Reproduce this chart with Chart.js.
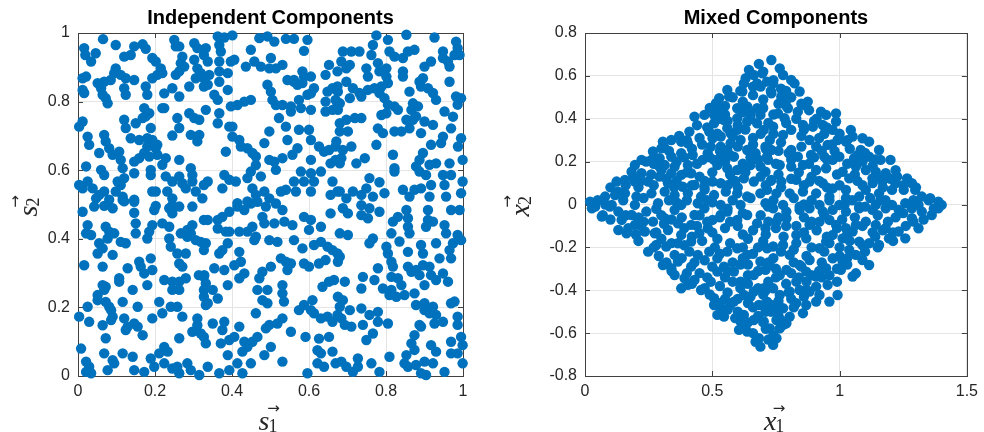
<!DOCTYPE html>
<html>
<head>
<meta charset="utf-8">
<script src="https://cdn.jsdelivr.net/npm/chart.js@4/dist/chart.umd.min.js"></script>
<style>
  html, body { margin: 0; padding: 0; background: #fff; }
  #wrap { position: relative; width: 984px; height: 432px; }
  .panel { position: absolute; top: 0; width: 492px; height: 432px; }
  #leftBox { left: 0; }
  #rightBox { left: 492px; }
</style>
</head>
<body>
<div id="wrap">
  <div class="panel" id="leftBox"><canvas id="independentChart"></canvas></div>
  <div class="panel" id="rightBox"><canvas id="mixedChart"></canvas></div>
</div>
<script>
// === Data ===
const independentPoints = [
  [0.065,0.982],[0.098,0.965],[0.146,0.961],[0.168,0.967],[0.176,0.954],[0.016,0.956],[0.019,0.936],[0.046,0.941],[0.034,0.917],
  [0.120,0.931],[0.137,0.936],[0.193,0.927],[0.202,0.917],[0.215,0.897],[0.219,0.883],[0.098,0.897],[0.094,0.883],[0.111,0.878],
  [0.124,0.868],[0.146,0.863],[0.085,0.863],[0.021,0.873],[0.012,0.868],[0.051,0.854],[0.068,0.858],[0.060,0.839],[0.012,0.834],
  [0.016,0.825],[0.064,0.820],[0.072,0.810],[0.077,0.795],[0.120,0.839],[0.124,0.820],[0.176,0.844],[0.180,0.820],[0.193,0.868],
  [0.206,0.878],[0.172,0.781],[0.185,0.766],[0.176,0.757],[0.224,0.824],[0.245,0.839],[0.263,0.815],[0.224,0.781],[0.250,0.980],
  [0.254,0.961],[0.263,0.961],[0.271,0.931],[0.267,0.912],[0.276,0.902],[0.263,0.888],[0.254,0.878],[0.302,0.970],[0.310,0.956],
  [0.327,0.951],[0.327,0.936],[0.302,0.922],[0.310,0.897],[0.319,0.883],[0.327,0.868],[0.306,0.868],[0.289,0.844],[0.327,0.844],
  [0.012,0.742],[0.003,0.727],[0.120,0.747],[0.124,0.723],[0.150,0.737],[0.168,0.752],[0.189,0.723],[0.180,0.693],[0.193,0.688],
  [0.206,0.674],[0.219,0.781],[0.258,0.752],[0.263,0.723],[0.245,0.701],[0.289,0.766],[0.302,0.752],[0.315,0.747],[0.293,0.703],
  [0.315,0.703],[0.310,0.684],[0.025,0.698],[0.029,0.674],[0.068,0.703],[0.072,0.684],[0.055,0.650],[0.081,0.664],[0.090,0.645],
  [0.107,0.654],[0.111,0.630],[0.116,0.606],[0.120,0.577],[0.111,0.557],[0.137,0.693],[0.159,0.688],[0.180,0.669],[0.172,0.650],
  [0.202,0.664],[0.206,0.645],[0.146,0.625],[0.159,0.635],[0.185,0.640],[0.021,0.611],[0.060,0.601],[0.068,0.586],[0.146,0.591],
  [0.189,0.601],[0.189,0.586],[0.228,0.635],[0.219,0.616],[0.263,0.630],[0.293,0.606],[0.297,0.586],[0.228,0.582],[0.245,0.567],
  [0.263,0.582],[0.271,0.562],[0.003,0.557],[0.012,0.547],[0.025,0.567],[0.038,0.547],[0.055,0.528],[0.068,0.538],[0.103,0.567],
  [0.098,0.538],[0.116,0.523],[0.146,0.514],[0.193,0.538],[0.202,0.538],[0.232,0.538],[0.245,0.518],[0.280,0.547],[0.297,0.567],
  [0.306,0.538],[0.323,0.518],[0.327,0.557],[0.047,0.518],[0.081,0.514],[0.120,0.509],
  [0.363,0.990],[0.380,0.987],[0.401,0.993],[0.471,0.985],[0.492,0.990],[0.510,0.975],[0.540,0.983],[0.561,0.983],[0.596,0.980],
  [0.332,0.956],[0.367,0.965],[0.371,0.946],[0.449,0.951],[0.587,0.948],[0.337,0.917],[0.367,0.917],[0.397,0.917],[0.406,0.922],
  [0.436,0.902],[0.458,0.917],[0.475,0.902],[0.501,0.927],[0.497,0.897],[0.514,0.897],[0.531,0.907],[0.341,0.878],[0.367,0.888],
  [0.367,0.858],[0.389,0.883],[0.544,0.863],[0.561,0.863],[0.583,0.888],[0.587,0.873],[0.605,0.873],[0.643,0.878],[0.652,0.907],
  [0.674,0.888],[0.337,0.849],[0.354,0.820],[0.363,0.805],[0.389,0.834],[0.492,0.849],[0.501,0.829],[0.505,0.805],[0.514,0.790],
  [0.531,0.790],[0.561,0.858],[0.570,0.849],[0.583,0.854],[0.613,0.839],[0.605,0.824],[0.596,0.820],[0.648,0.829],[0.661,0.839],
  [0.674,0.844],[0.643,0.800],[0.669,0.805],[0.397,0.786],[0.414,0.790],[0.432,0.800],[0.449,0.805],[0.332,0.776],[0.367,0.766],
  [0.363,0.737],[0.553,0.786],[0.553,0.771],[0.574,0.805],[0.579,0.781],[0.605,0.776],[0.643,0.771],[0.661,0.776],[0.674,0.790],
  [0.522,0.752],[0.540,0.727],[0.497,0.713],[0.484,0.679],[0.393,0.727],[0.401,0.727],[0.401,0.698],[0.419,0.688],[0.423,0.669],
  [0.440,0.664],[0.453,0.650],[0.462,0.640],[0.384,0.654],[0.544,0.688],[0.574,0.718],[0.600,0.718],[0.605,0.688],[0.570,0.664],
  [0.557,0.645],[0.531,0.635],[0.497,0.630],[0.510,0.625],[0.626,0.669],[0.639,0.654],[0.652,0.659],[0.669,0.669],[0.656,0.620],
  [0.669,0.630],[0.605,0.630],[0.462,0.615],[0.449,0.596],[0.440,0.577],[0.475,0.582],[0.514,0.601],[0.380,0.586],[0.393,0.572],
  [0.410,0.567],[0.375,0.547],[0.337,0.567],[0.579,0.596],[0.605,0.591],[0.631,0.596],[0.587,0.567],[0.613,0.567],[0.661,0.567],
  [0.674,0.538],[0.656,0.528],[0.453,0.547],[0.462,0.528],[0.484,0.538],[0.497,0.518],[0.527,0.538],[0.540,0.543],[0.561,0.567],
  [0.566,0.538],[0.605,0.538],[0.414,0.504],[0.440,0.509],
  [0.775,0.993],[0.853,0.995],[0.926,0.987],[0.805,0.980],[0.982,0.975],[0.986,0.956],[0.688,0.946],[0.710,0.946],[0.731,0.946],
  [0.766,0.965],[0.762,0.936],[0.809,0.946],[0.822,0.931],[0.844,0.927],[0.857,0.946],[0.874,0.951],[0.948,0.946],[0.948,0.927],
  [0.978,0.936],[0.991,0.936],[0.684,0.917],[0.706,0.907],[0.697,0.897],[0.779,0.912],[0.749,0.897],[0.753,0.873],[0.783,0.888],
  [0.801,0.897],[0.801,0.873],[0.805,0.854],[0.788,0.844],[0.844,0.888],[0.844,0.873],[0.900,0.902],[0.917,0.917],[0.896,0.868],
  [0.887,0.858],[0.961,0.917],[0.965,0.902],[0.697,0.858],[0.714,0.839],[0.731,0.825],[0.753,0.834],[0.770,0.839],[0.783,0.825],
  [0.796,0.810],[0.675,0.829],[0.680,0.795],[0.706,0.810],[0.736,0.815],[0.861,0.829],[0.909,0.839],[0.922,0.825],[0.930,0.805],
  [0.891,0.844],[0.965,0.858],[0.982,0.815],[0.995,0.810],[0.986,0.791],[0.805,0.791],[0.822,0.786],[0.831,0.776],[0.870,0.795],
  [0.883,0.786],[0.866,0.776],[0.878,0.757],[0.870,0.747],[0.853,0.747],[0.788,0.761],[0.801,0.766],[0.675,0.776],[0.680,0.737],
  [0.697,0.747],[0.719,0.752],[0.736,0.752],[0.952,0.771],[0.974,0.756],[0.969,0.722],[0.922,0.732],[0.900,0.742],[0.779,0.722],
  [0.792,0.708],[0.822,0.713],[0.840,0.713],[0.861,0.722],[0.891,0.708],[0.680,0.713],[0.701,0.713],[0.671,0.684],[0.688,0.659],
  [0.710,0.669],[0.948,0.698],[0.943,0.679],[0.917,0.674],[0.995,0.693],[0.987,0.669],[0.775,0.674],[0.684,0.635],[0.680,0.620],
  [0.723,0.620],[0.745,0.635],[0.818,0.645],[0.822,0.606],[0.822,0.596],[0.896,0.650],[0.887,0.630],[0.878,0.611],[0.887,0.596],
  [0.913,0.616],[0.930,0.620],[0.965,0.620],[0.999,0.630],[0.904,0.586],[0.948,0.586],[0.969,0.586],[0.999,0.567],[0.952,0.557],
  [0.917,0.557],[0.757,0.577],[0.783,0.565],[0.749,0.547],[0.736,0.528],[0.714,0.538],[0.680,0.538],[0.697,0.518],[0.766,0.523],
  [0.796,0.533],[0.844,0.543],[0.874,0.543],[0.891,0.547],[0.861,0.523],[0.913,0.523],[0.956,0.523],[0.995,0.533],
  [0.012,0.479],[0.042,0.494],[0.068,0.496],[0.090,0.489],[0.116,0.513],[0.146,0.508],[0.146,0.476],[0.202,0.496],[0.198,0.484],
  [0.237,0.489],[0.245,0.498],[0.263,0.494],[0.245,0.474],[0.297,0.494],[0.327,0.455],[0.025,0.440],[0.021,0.416],[0.034,0.411],
  [0.072,0.435],[0.081,0.421],[0.094,0.416],[0.077,0.401],[0.150,0.445],[0.150,0.416],[0.193,0.440],[0.185,0.421],[0.180,0.401],
  [0.219,0.445],[0.237,0.435],[0.267,0.416],[0.284,0.426],[0.297,0.440],[0.293,0.416],[0.284,0.406],[0.306,0.396],[0.319,0.391],
  [0.327,0.367],[0.055,0.387],[0.064,0.372],[0.051,0.357],[0.111,0.391],[0.124,0.387],[0.090,0.353],[0.237,0.401],[0.241,0.377],
  [0.258,0.357],[0.280,0.357],[0.016,0.323],[0.064,0.319],[0.129,0.314],[0.159,0.333],[0.163,0.319],[0.172,0.299],[0.189,0.343],
  [0.193,0.309],[0.263,0.328],[0.271,0.319],[0.280,0.285],[0.263,0.275],[0.245,0.275],[0.224,0.280],[0.314,0.294],[0.327,0.289],
  [0.327,0.251],[0.263,0.251],[0.245,0.251],[0.107,0.285],[0.107,0.275],[0.072,0.260],[0.064,0.265],[0.068,0.251],[0.142,0.251],
  [0.180,0.265],[0.051,0.236],[0.051,0.221],[0.072,0.216],[0.081,0.202],[0.086,0.192],[0.116,0.216],[0.155,0.202],[0.211,0.216],
  [0.241,0.202],[0.258,0.202],[0.332,0.207],[0.327,0.231],[0.025,0.202],[0.003,0.173],[0.029,0.158],[0.064,0.148],[0.086,0.163],
  [0.090,0.173],[0.120,0.168],[0.129,0.144],[0.146,0.153],[0.155,0.144],[0.168,0.119],[0.124,0.134],[0.193,0.168],[0.219,0.183],
  [0.271,0.173],[0.310,0.168],[0.310,0.148],[0.319,0.124],[0.072,0.110],[0.297,0.129],[0.263,0.110],[0.327,0.114],[0.008,0.080],
  [0.224,0.085],[0.233,0.071],[0.211,0.066],[0.189,0.051],[0.068,0.066],[0.116,0.066],[0.142,0.056],[0.090,0.046],[0.094,0.037],
  [0.077,0.017],[0.021,0.042],[0.029,0.027],[0.021,0.012],[0.034,0.008],[0.146,0.017],[0.172,0.012],[0.198,0.027],[0.224,0.037],
  [0.245,0.022],[0.258,0.027],[0.263,0.008],[0.284,0.037],[0.293,0.017],[0.315,0.003],
  [0.337,0.455],[0.363,0.455],[0.363,0.430],[0.375,0.464],[0.393,0.479],[0.414,0.494],[0.432,0.484],[0.449,0.503],[0.466,0.508],
  [0.488,0.494],[0.514,0.503],[0.531,0.484],[0.479,0.464],[0.484,0.445],[0.453,0.435],[0.440,0.421],[0.419,0.421],[0.384,0.421],
  [0.393,0.421],[0.510,0.445],[0.536,0.450],[0.557,0.440],[0.587,0.464],[0.605,0.455],[0.656,0.474],[0.600,0.426],[0.631,0.435],
  [0.462,0.406],[0.458,0.396],[0.497,0.396],[0.518,0.391],[0.561,0.396],[0.583,0.372],[0.613,0.382],[0.631,0.391],[0.648,0.377],
  [0.661,0.367],[0.674,0.357],[0.332,0.387],[0.389,0.387],[0.375,0.367],[0.367,0.357],[0.419,0.362],[0.423,0.333],[0.527,0.343],
  [0.540,0.333],[0.553,0.328],[0.544,0.309],[0.501,0.319],[0.479,0.304],[0.471,0.285],[0.587,0.328],[0.600,0.319],[0.626,0.328],
  [0.643,0.338],[0.652,0.275],[0.635,0.260],[0.665,0.280],[0.354,0.314],[0.380,0.309],[0.406,0.323],[0.432,0.299],[0.419,0.285],
  [0.328,0.294],[0.332,0.270],[0.350,0.251],[0.363,0.226],[0.389,0.265],[0.466,0.251],[0.492,0.251],[0.531,0.265],[0.531,0.241],
  [0.535,0.217],[0.479,0.221],[0.492,0.212],[0.609,0.221],[0.587,0.207],[0.574,0.192],[0.605,0.192],[0.613,0.183],[0.631,0.168],
  [0.648,0.173],[0.674,0.178],[0.661,0.158],[0.462,0.183],[0.337,0.212],[0.350,0.153],[0.380,0.158],[0.375,0.134],[0.419,0.144],
  [0.531,0.168],[0.518,0.153],[0.497,0.149],[0.488,0.139],[0.466,0.114],[0.453,0.100],[0.440,0.085],[0.427,0.071],[0.553,0.129],
  [0.591,0.114],[0.626,0.109],[0.652,0.114],[0.371,0.095],[0.393,0.105],[0.406,0.114],[0.432,0.100],[0.501,0.085],[0.332,0.095],
  [0.389,0.061],[0.484,0.061],[0.531,0.042],[0.622,0.075],[0.631,0.066],[0.661,0.071],[0.449,0.037],[0.414,0.037],[0.393,0.017],
  [0.367,0.008],[0.337,0.027],[0.427,0.008],[0.596,0.008],[0.622,0.037],[0.639,0.027],[0.669,0.037],
  [0.688,0.489],[0.701,0.474],[0.736,0.498],[0.757,0.489],[0.783,0.479],[0.736,0.469],[0.753,0.460],[0.853,0.484],[0.857,0.460],
  [0.857,0.435],[0.861,0.416],[0.818,0.450],[0.831,0.464],[0.814,0.416],[0.835,0.392],[0.909,0.484],[0.909,0.455],[0.904,0.435],
  [0.922,0.450],[0.952,0.440],[0.956,0.416],[0.969,0.484],[0.991,0.484],[0.986,0.411],[0.995,0.396],[0.974,0.387],[0.680,0.416],
  [0.701,0.411],[0.757,0.387],[0.766,0.401],[0.801,0.377],[0.805,0.357],[0.814,0.333],[0.818,0.319],[0.857,0.362],[0.891,0.382],
  [0.896,0.357],[0.930,0.387],[0.939,0.343],[0.965,0.367],[0.969,0.343],[0.680,0.348],[0.675,0.333],[0.779,0.314],[0.857,0.319],
  [0.866,0.304],[0.878,0.309],[0.896,0.323],[0.913,0.319],[0.887,0.294],[0.917,0.294],[0.930,0.280],[0.948,0.299],[0.961,0.275],
  [0.814,0.289],[0.831,0.285],[0.840,0.265],[0.814,0.251],[0.809,0.236],[0.827,0.231],[0.848,0.236],[0.874,0.241],[0.900,0.265],
  [0.792,0.255],[0.693,0.275],[0.740,0.289],[0.770,0.280],[0.736,0.255],[0.675,0.231],[0.688,0.221],[0.680,0.202],[0.706,0.192],
  [0.878,0.207],[0.900,0.212],[0.922,0.202],[0.913,0.183],[0.900,0.192],[0.930,0.178],[0.969,0.212],[0.978,0.217],[0.736,0.197],
  [0.757,0.178],[0.779,0.187],[0.779,0.158],[0.766,0.124],[0.749,0.105],[0.684,0.168],[0.693,0.149],[0.710,0.144],[0.740,0.149],
  [0.805,0.153],[0.887,0.149],[0.891,0.144],[0.926,0.153],[0.948,0.158],[0.986,0.173],[0.986,0.149],[0.874,0.119],[0.866,0.095],
  [0.874,0.076],[0.917,0.090],[0.930,0.071],[0.969,0.100],[0.995,0.114],[0.999,0.090],[0.969,0.066],[0.986,0.066],[0.809,0.056],
  [0.853,0.061],[0.999,0.037],[0.684,0.042],[0.697,0.027],[0.727,0.051],[0.727,0.027],[0.714,0.012],[0.762,0.037],[0.783,0.012],
  [0.848,0.037],[0.857,0.027],[0.878,0.032],[0.900,0.042],[0.922,0.037],[0.891,0.008],[0.904,0.003],[0.952,0.012]
];

const mixedPoints = [
  [0.683,0.656],[0.644,0.628],[0.631,0.589],[0.663,0.604],[0.696,0.612],[0.715,0.573],[0.676,0.565],[0.624,0.565],[0.618,0.527],
  [0.559,0.534],[0.566,0.503],[0.527,0.496],[0.514,0.472],[0.520,0.441],[0.507,0.418],[0.598,0.449],[0.637,0.457],[0.676,0.449],
  [0.689,0.418],[0.650,0.425],[0.598,0.402],[0.637,0.387],[0.676,0.379],[0.702,0.348],[0.430,0.410],[0.469,0.418],[0.507,0.379],
  [0.546,0.394],[0.559,0.356],[0.572,0.332],[0.410,0.340],[0.488,0.340],[0.501,0.309],[0.533,0.317],[0.598,0.348],[0.611,0.301],
  [0.306,0.293],[0.339,0.301],[0.378,0.293],[0.404,0.285],[0.300,0.262],[0.267,0.247],[0.494,0.270],[0.533,0.270],[0.572,0.286],
  [0.559,0.254],[0.637,0.254],[0.670,0.239],[0.709,0.270],[0.715,0.223],[0.339,0.223],[0.378,0.239],[0.423,0.231],[0.482,0.239],
  [0.462,0.208],[0.507,0.208],[0.533,0.223],[0.585,0.223],[0.196,0.184],[0.222,0.208],[0.261,0.208],[0.293,0.216],[0.313,0.184],
  [0.352,0.177],[0.404,0.184],[0.183,0.153],[0.222,0.146],[0.300,0.161],[0.339,0.146],[0.378,0.138],[0.417,0.146],[0.520,0.184],
  [0.559,0.169],[0.598,0.161],[0.650,0.184],[0.689,0.177],[0.709,0.153],[0.124,0.107],[0.157,0.115],[0.196,0.107],[0.248,0.107],
  [0.293,0.130],[0.326,0.099],[0.384,0.083],[0.430,0.091],[0.469,0.083],[0.501,0.107],[0.533,0.099],[0.579,0.107],[0.624,0.122],
  [0.663,0.107],[0.079,0.037],[0.118,0.044],[0.157,0.052],[0.202,0.037],[0.261,0.052],[0.313,0.060],[0.352,0.044],[0.404,0.052],
  [0.456,0.037],[0.507,0.044],[0.553,0.060],[0.598,0.052],[0.637,0.037],[0.689,0.052],[0.715,0.068],[0.020,0.013],[0.040,-0.010],
  [0.105,-0.002],[0.196,-0.002],[0.287,0.006],[0.378,-0.002],[0.443,0.006],[0.533,-0.002],[0.611,-0.002],[0.709,0.006],
  [0.732,0.674],[0.765,0.635],[0.778,0.604],[0.810,0.581],[0.823,0.565],[0.843,0.527],[0.739,0.565],[0.732,0.519],[0.771,0.503],
  [0.791,0.488],[0.797,0.449],[0.758,0.425],[0.784,0.402],[0.836,0.433],[0.862,0.464],[0.875,0.480],[0.927,0.433],[0.947,0.418],
  [0.986,0.425],[0.739,0.363],[0.778,0.324],[0.810,0.348],[0.856,0.371],[0.895,0.363],[0.934,0.371],[0.973,0.348],[0.986,0.387],
  [1.044,0.348],[1.051,0.317],[1.090,0.309],[1.116,0.293],[1.025,0.293],[0.992,0.301],[0.726,0.301],[0.732,0.254],[0.810,0.254],
  [0.882,0.301],[0.908,0.270],[0.953,0.278],[0.888,0.231],[0.836,0.223],[1.155,0.254],[1.200,0.208],[1.161,0.208],[1.116,0.223],
  [1.083,0.254],[1.057,0.216],[0.999,0.223],[0.973,0.208],[0.940,0.223],[0.719,0.208],[0.765,0.184],[0.810,0.177],[0.856,0.184],
  [0.908,0.161],[0.947,0.169],[1.012,0.153],[1.064,0.177],[1.103,0.161],[1.142,0.153],[1.181,0.146],[1.226,0.130],[1.265,0.122],
  [1.284,0.099],[1.219,0.099],[1.168,0.107],[1.129,0.122],[1.038,0.122],[1.025,0.068],[0.973,0.075],[0.934,0.099],[0.882,0.107],
  [0.830,0.115],[0.771,0.107],[0.732,0.115],[1.323,0.037],[1.356,0.029],[1.388,0.013],[1.401,-0.002],[1.297,0.068],[1.252,0.068],
  [1.206,0.068],[1.155,0.052],[1.103,0.068],[1.077,0.037],[1.025,0.029],[0.960,0.037],[0.908,0.052],[0.856,0.060],[0.804,0.052],
  [0.752,0.052],[1.310,-0.002],[1.258,0.006],[1.206,-0.002],[1.142,-0.002],[1.077,-0.010],[0.999,-0.002],[0.921,-0.002],
  [0.843,-0.010],[0.778,-0.002],[0.719,-0.010],
  [0.027,-0.018],[0.066,-0.056],[0.098,-0.010],[0.131,-0.033],[0.131,-0.119],[0.163,-0.134],[0.144,-0.072],[0.183,-0.049],
  [0.196,-0.095],[0.235,-0.126],[0.241,-0.033],[0.267,-0.080],[0.274,-0.134],[0.313,-0.064],[0.326,-0.119],[0.352,-0.025],
  [0.365,-0.088],[0.378,-0.142],[0.417,-0.095],[0.430,-0.049],[0.469,-0.018],[0.248,-0.220],[0.280,-0.189],[0.319,-0.196],
  [0.352,-0.235],[0.365,-0.181],[0.417,-0.173],[0.449,-0.134],[0.482,-0.111],[0.501,-0.072],[0.533,-0.049],[0.559,-0.033],
  [0.598,-0.072],[0.637,-0.049],[0.676,-0.088],[0.709,-0.111],[0.306,-0.282],[0.339,-0.297],[0.365,-0.266],[0.352,-0.329],
  [0.391,-0.344],[0.417,-0.290],[0.443,-0.235],[0.488,-0.220],[0.520,-0.251],[0.559,-0.220],[0.598,-0.204],[0.637,-0.235],
  [0.689,-0.266],[0.715,-0.204],[0.378,-0.391],[0.404,-0.375],[0.430,-0.352],[0.456,-0.399],[0.494,-0.360],[0.520,-0.313],
  [0.546,-0.290],[0.585,-0.313],[0.611,-0.360],[0.663,-0.329],[0.709,-0.305],[0.507,-0.437],[0.507,-0.469],[0.533,-0.484],
  [0.520,-0.515],[0.546,-0.523],[0.585,-0.453],[0.624,-0.422],[0.663,-0.406],[0.702,-0.391],[0.683,-0.469],[0.715,-0.453],
  [0.624,-0.515],[0.611,-0.546],[0.605,-0.585],[0.637,-0.593],[0.663,-0.539],[0.702,-0.546],[0.709,-0.500],[0.683,-0.624],
  [0.689,-0.663],
  [0.739,-0.018],[0.791,-0.033],[0.843,-0.025],[0.882,-0.018],[0.934,-0.033],[0.973,-0.025],[1.025,-0.033],[1.077,-0.018],
  [1.129,-0.025],[1.181,-0.018],[1.232,-0.025],[1.284,-0.018],[1.323,-0.033],[1.362,-0.049],[1.388,-0.018],[0.752,-0.080],
  [0.791,-0.064],[0.830,-0.142],[0.869,-0.158],[0.882,-0.095],[0.921,-0.080],[0.960,-0.072],[0.986,-0.095],[1.025,-0.111],
  [1.064,-0.095],[1.103,-0.080],[1.142,-0.095],[1.181,-0.111],[1.232,-0.126],[1.258,-0.158],[1.310,-0.111],[1.284,-0.064],
  [0.739,-0.196],[0.778,-0.189],[0.804,-0.235],[0.843,-0.282],[0.882,-0.259],[0.921,-0.204],[0.947,-0.173],[0.973,-0.142],
  [1.012,-0.158],[1.051,-0.126],[1.077,-0.173],[1.116,-0.181],[1.155,-0.189],[1.194,-0.158],[0.726,-0.282],[0.765,-0.329],
  [0.791,-0.305],[0.830,-0.360],[0.869,-0.313],[0.908,-0.336],[0.947,-0.297],[0.973,-0.251],[1.012,-0.266],[1.038,-0.212],
  [1.064,-0.235],[1.090,-0.259],[1.116,-0.282],[1.005,-0.305],[1.051,-0.336],[1.064,-0.321],[0.739,-0.391],[0.765,-0.422],
  [0.804,-0.406],[0.843,-0.399],[0.882,-0.406],[0.921,-0.422],[0.960,-0.453],[0.992,-0.422],[0.953,-0.375],[0.908,-0.383],
  [0.732,-0.469],[0.778,-0.484],[0.804,-0.523],[0.869,-0.469],[0.856,-0.507],[0.908,-0.453],[0.752,-0.539],[0.791,-0.554],
  [0.726,-0.578],[0.765,-0.578],[0.752,-0.624],[0.739,-0.655],
  [0.58,0.50],[0.66,0.51],[0.70,0.49],[0.76,0.47],[0.81,0.50],[0.73,0.53],[0.49,0.45],[0.55,0.46],[0.62,0.43],[0.70,0.45],
  [0.74,0.42],[0.79,0.46],[0.88,0.44],[0.91,0.40],[0.44,0.37],[0.53,0.40],[0.56,0.39],[0.65,0.40],[0.72,0.38],[0.79,0.38],
  [0.83,0.40],[0.90,0.39],[0.95,0.36],[0.60,0.37],[0.37,0.32],[0.45,0.31],[0.52,0.33],[0.58,0.32],[0.66,0.31],[0.74,0.33],
  [0.77,0.29],[0.85,0.32],[0.92,0.31],[1.00,0.33],[0.97,0.28],[0.31,0.27],[0.42,0.26],[0.46,0.28],[0.53,0.25],[0.60,0.27],
  [0.66,0.28],[0.71,0.26],[0.76,0.25],[0.85,0.27],[0.93,0.25],[1.04,0.26],[1.10,0.24],[0.24,0.20],[0.29,0.18],[0.36,0.20],
  [0.44,0.19],[0.55,0.20],[0.62,0.19],[0.68,0.21],[0.75,0.19],[0.81,0.21],[0.88,0.19],[0.95,0.21],[1.03,0.19],[1.09,0.20],
  [1.13,0.18],[0.19,0.13],[0.26,0.14],[0.32,0.12],[0.40,0.15],[0.45,0.13],[0.50,0.15],[0.57,0.14],[0.63,0.15],[0.69,0.13],
  [0.76,0.14],[0.84,0.15],[0.89,0.13],[0.99,0.14],[1.06,0.14],[1.15,0.13],[1.22,0.16],[0.10,0.08],[0.21,0.08],[0.27,0.09],
  [0.35,0.08],[0.42,0.09],[0.47,0.07],[0.56,0.09],[0.60,0.08],[0.71,0.09],[0.77,0.08],[0.86,0.09],[0.95,0.08],[1.00,0.09],
  [1.09,0.09],[1.17,0.08],[1.25,0.09],[0.05,0.02],[0.15,0.02],[0.23,0.03],[0.33,0.02],[0.40,0.02],[0.48,0.02],[0.58,0.02],
  [0.65,0.03],[0.74,0.02],[0.82,0.03],[0.89,0.02],[0.96,0.02],[1.05,0.02],[1.12,0.03],[1.18,0.02],[1.29,0.02],[1.35,0.02],
  [0.07,-0.05],[0.16,-0.05],[0.21,-0.06],[0.30,-0.05],[0.38,-0.06],[0.45,-0.05],[0.53,-0.06],[0.62,-0.04],[0.69,-0.05],
  [0.76,-0.06],[0.86,-0.06],[0.94,-0.05],[1.06,-0.06],[1.15,-0.05],[1.22,-0.06],[1.33,-0.07],[0.17,-0.11],[0.22,-0.10],
  [0.31,-0.09],[0.39,-0.11],[0.44,-0.10],[0.55,-0.11],[0.60,-0.10],[0.66,-0.12],[0.75,-0.11],[0.79,-0.10],[0.91,-0.12],
  [0.99,-0.11],[1.09,-0.10],[1.17,-0.12],[1.26,-0.10],[0.21,-0.17],[0.30,-0.16],[0.34,-0.18],[0.46,-0.17],[0.52,-0.16],
  [0.57,-0.18],[0.64,-0.16],[0.70,-0.17],[0.78,-0.15],[0.83,-0.18],[0.96,-0.18],[1.04,-0.17],[1.14,-0.15],[1.21,-0.17],
  [0.29,-0.24],[0.38,-0.25],[0.41,-0.22],[0.47,-0.26],[0.53,-0.23],[0.62,-0.25],[0.66,-0.23],[0.74,-0.25],[0.77,-0.22],
  [0.87,-0.24],[0.94,-0.22],[1.00,-0.24],[1.10,-0.22],[0.34,-0.31],[0.45,-0.32],[0.50,-0.29],[0.56,-0.31],[0.61,-0.28],
  [0.68,-0.31],[0.75,-0.30],[0.81,-0.32],[0.85,-0.29],[0.92,-0.31],[0.99,-0.30],[1.03,-0.28],[0.42,-0.37],[0.53,-0.38],
  [0.58,-0.36],[0.64,-0.37],[0.68,-0.39],[0.72,-0.36],[0.79,-0.37],[0.87,-0.36],[0.93,-0.34],[0.99,-0.36],[0.49,-0.42],
  [0.55,-0.44],[0.60,-0.44],[0.65,-0.43],[0.70,-0.42],[0.76,-0.45],[0.81,-0.44],[0.86,-0.43],[0.56,-0.49],[0.60,-0.50],
  [0.66,-0.48],[0.68,-0.52],[0.73,-0.50],[0.76,-0.52],[0.82,-0.48],[0.63,-0.57],[0.66,-0.60],[0.71,-0.58],[0.74,-0.61],
  [0.78,-0.56],[0.70,0.62],[0.74,0.58],[0.66,0.55],[0.77,0.54],[0.61,0.53],
  [0.62,0.48],[0.69,0.55],[0.79,0.53],[0.85,0.47],[0.55,0.42],[0.48,0.36],[0.63,0.35],[0.69,0.33],[0.86,0.35],[0.94,0.33],
  [1.03,0.30],[0.40,0.30],[0.33,0.25],[0.39,0.22],[0.49,0.22],[0.57,0.23],[0.65,0.22],[0.80,0.24],[0.90,0.22],[0.98,0.25],
  [1.07,0.23],[1.14,0.21],[0.27,0.19],[0.16,0.09],[0.22,0.11],[0.36,0.11],[0.47,0.11],[0.59,0.11],[0.73,0.11],[0.81,0.12],
  [0.92,0.11],[1.07,0.11],[1.13,0.10],[1.20,0.12],[1.30,0.08],[0.13,0.06],[0.08,0.00],[0.28,-0.02],[0.36,0.01],[0.50,0.01],
  [0.56,-0.02],[0.86,0.00],[1.02,0.00],[1.10,-0.01],[1.25,-0.04],[1.37,-0.02],[1.16,0.02],[0.10,-0.07],[0.23,-0.08],
  [0.34,-0.07],[0.48,-0.08],[0.57,-0.08],[0.72,-0.08],[0.89,-0.08],[1.01,-0.07],[1.19,-0.08],[1.29,-0.08],[0.83,-0.10],
  [0.20,-0.14],[0.28,-0.13],[0.42,-0.15],[0.50,-0.13],[0.62,-0.14],[0.71,-0.14],[0.86,-0.13],[0.95,-0.15],[1.03,-0.14],
  [1.13,-0.13],[1.21,-0.13],[0.27,-0.20],[0.39,-0.19],[0.51,-0.20],[0.62,-0.20],[0.68,-0.20],[0.82,-0.21],[0.89,-0.20],
  [1.00,-0.20],[1.09,-0.19],[1.15,-0.20],[0.32,-0.27],[0.43,-0.27],[0.58,-0.27],[0.64,-0.28],[0.72,-0.27],[0.82,-0.27],
  [0.93,-0.27],[1.03,-0.25],[0.40,-0.32],[0.48,-0.34],[0.55,-0.34],[0.64,-0.33],[0.75,-0.34],[0.84,-0.34],[0.89,-0.33],
  [0.96,-0.33],[0.47,-0.39],[0.56,-0.41],[0.61,-0.39],[0.71,-0.40],[0.80,-0.41],[0.87,-0.40],[0.53,-0.46],[0.57,-0.47],
  [0.64,-0.46],[0.71,-0.46],[0.75,-0.48],[0.83,-0.46],[0.59,-0.53],[0.64,-0.55],[0.70,-0.55],[0.77,-0.54],[0.67,-0.64],
  [0.72,-0.63]
];

const leftXTicks = [0, 0.2, 0.4, 0.6, 0.8, 1];
const leftYTicks = [0, 0.2, 0.4, 0.6, 0.8, 1];
const rightXTicks = [0, 0.5, 1, 1.5];
const rightYTicks = [-0.8, -0.6, -0.4, -0.2, 0, 0.2, 0.4, 0.6, 0.8];

const pointColor = '#0072BD';
const axisColor = '#262626';
const tickFont = { family: '"Liberation Sans", Arial, sans-serif', size: 16 };

// === Frame + inward ticks (MATLAB style box) ===
const axisFrame = {
  id: 'axisFrame',
  beforeDatasetsDraw(chart) {
    const { ctx, chartArea: a, scales } = chart;
    ctx.save();
    ctx.strokeStyle = '#404040';
    ctx.lineWidth = 1;
    ctx.beginPath();
    scales.x.ticks.forEach(t => {
      const px = Math.round(scales.x.getPixelForValue(t.value)) + 0.5;
      ctx.moveTo(px, a.bottom); ctx.lineTo(px, a.bottom - 5);
      ctx.moveTo(px, a.top); ctx.lineTo(px, a.top + 5);
    });
    scales.y.ticks.forEach(t => {
      const py = Math.round(scales.y.getPixelForValue(t.value)) + 0.5;
      ctx.moveTo(a.left, py); ctx.lineTo(a.left + 5, py);
      ctx.moveTo(a.right, py); ctx.lineTo(a.right - 5, py);
    });
    ctx.stroke();
    ctx.strokeRect(Math.round(a.left) + 0.5, Math.round(a.top) + 0.5,
      Math.round(a.right - a.left), Math.round(a.bottom - a.top));
    ctx.restore();
  }
};

// === Vector axis labels (s1, s2, x1, x2 with arrow) ===
function drawVecLabel(ctx, name, sub) {
  ctx.fillStyle = axisColor;
  ctx.textBaseline = 'alphabetic';
  ctx.textAlign = 'left';
  ctx.font = 'italic 28px "Liberation Serif", "DejaVu Serif", serif';
  const w = ctx.measureText(name).width;
  ctx.fillText(name, -12, 0);
  ctx.font = '18px "Liberation Serif", "DejaVu Serif", serif';
  ctx.fillText(sub, -12 + w - 1, 2);
  ctx.font = '15px "DejaVu Sans", sans-serif';
  ctx.textAlign = 'center';
  ctx.fillText('\u2192', 3, -17);
}

const vecLabels = {
  id: 'vecLabels',
  afterDraw(chart, args, opts) {
    const { ctx, chartArea: a } = chart;
    ctx.save();
    ctx.translate((a.left + a.right) / 2, 430);
    drawVecLabel(ctx, opts.name, opts.xSub);
    ctx.restore();
    ctx.save();
    ctx.translate(37, (a.top + a.bottom) / 2);
    ctx.rotate(-Math.PI / 2);
    drawVecLabel(ctx, opts.name, opts.ySub);
    ctx.restore();
  }
};

function makeScatter(canvasId, title, points, xr, yr, xt, yt, yWidth, rightPad, name) {
  const ctx = document.getElementById(canvasId).getContext('2d');
  return new Chart(ctx, {
    type: 'scatter',
    data: {
      datasets: [{
        data: points.map(p => ({ x: p[0], y: p[1] })),
        backgroundColor: pointColor,
        borderWidth: 0,
        pointRadius: 5.2,
        pointHoverRadius: 5.2,
        clip: false
      }]
    },
    options: {
      responsive: true,
      maintainAspectRatio: false,
      animation: false,
      events: [],
      layout: { padding: { left: 0, right: rightPad, top: 0, bottom: 0 } },
      plugins: {
        legend: { display: false },
        tooltip: { enabled: false },
        title: {
          display: true,
          fullSize: false,
          text: title,
          color: '#000',
          font: { family: '"Liberation Sans", Arial, sans-serif', size: 20, weight: 'bold', lineHeight: 1.2 },
          padding: { top: 6, bottom: 3 }
        },
        vecLabels: { name: name, xSub: '1', ySub: '2' }
      },
      scales: {
        x: {
          type: 'linear', min: xr[0], max: xr[1],
          afterBuildTicks: s => { s.ticks = xt.map(v => ({ value: v })); },
          afterFit: s => { s.height = 56; },
          grid: { color: '#e4e4e4', drawTicks: false },
          border: { display: false },
          ticks: { padding: 6, color: axisColor, font: tickFont, maxRotation: 0, autoSkip: false, callback: v => String(v) }
        },
        y: {
          type: 'linear', min: yr[0], max: yr[1],
          afterBuildTicks: s => { s.ticks = yt.map(v => ({ value: v })); },
          afterFit: s => { s.width = yWidth; },
          grid: { color: '#e4e4e4', drawTicks: false },
          border: { display: false },
          ticks: { padding: 8, color: axisColor, font: tickFont, autoSkip: false, callback: v => String(v) }
        }
      }
    },
    plugins: [axisFrame, vecLabels]
  });
}

makeScatter('independentChart', 'Independent Components', independentPoints,
  [0, 1], [0, 1], leftXTicks, leftYTicks, 78, 29, 's');
makeScatter('mixedChart', 'Mixed Components', mixedPoints,
  [0, 1.5], [-0.8, 0.8], rightXTicks, rightYTicks, 93, 14, 'x');
</script>
</body>
</html>
